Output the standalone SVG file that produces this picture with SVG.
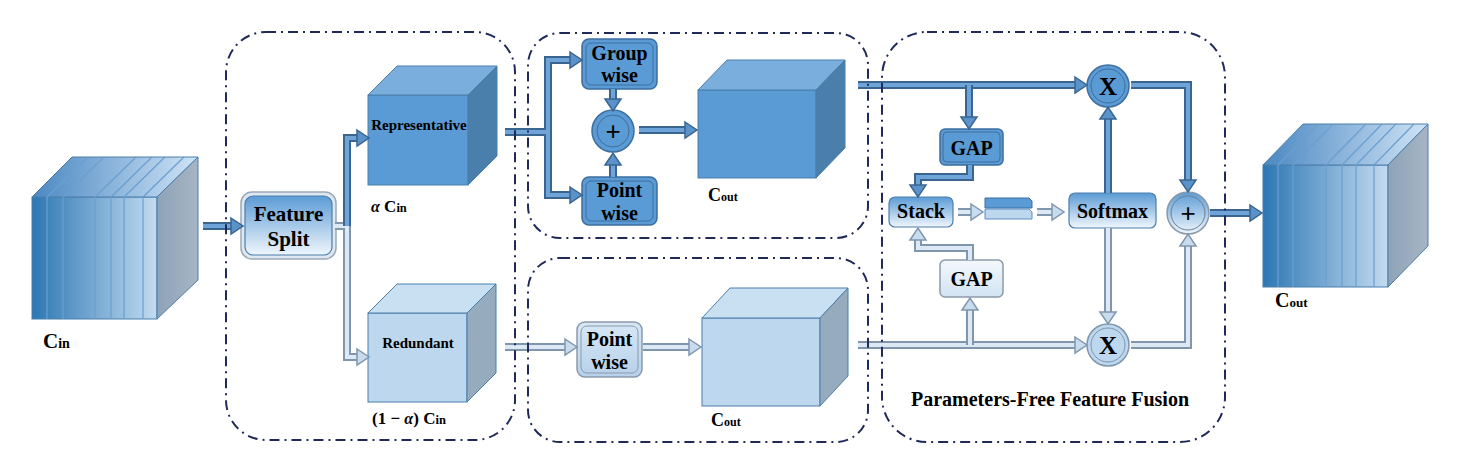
<svg xmlns="http://www.w3.org/2000/svg" width="1483" height="475" viewBox="0 0 1483 475">
<defs>
<linearGradient id="gFrontIn" x1="0" y1="0" x2="1" y2="0"><stop offset="0" stop-color="#2c77b4"/><stop offset="1" stop-color="#c3dbf0"/></linearGradient>
<linearGradient id="gTopIn" x1="0" y1="0" x2="1" y2="0"><stop offset="0" stop-color="#4b88c2"/><stop offset="1" stop-color="#cfe3f5"/></linearGradient>
<linearGradient id="gRightIn" x1="0" y1="0" x2="1" y2="0"><stop offset="0" stop-color="#8ea3b7"/><stop offset="1" stop-color="#a6b5c4"/></linearGradient>
<linearGradient id="gNode" x1="0" y1="0" x2="0" y2="1"><stop offset="0" stop-color="#5b9bd5"/><stop offset="1" stop-color="#f0f6fc"/></linearGradient>
<linearGradient id="gLight" x1="0" y1="0" x2="0" y2="1"><stop offset="0" stop-color="#f4f8fc"/><stop offset="1" stop-color="#d2e3f3"/></linearGradient>
<linearGradient id="gLightBox" x1="0" y1="0" x2="0" y2="1"><stop offset="0" stop-color="#d7e7f6"/><stop offset="1" stop-color="#b6d1ea"/></linearGradient>
</defs>
<style>
.frame{fill:none;stroke:#1f2a5a;stroke-width:2;stroke-dasharray:10 5 2 5}
.t{font-family:"Liberation Serif",serif;font-weight:bold;fill:#000;text-anchor:middle}
.lab{font-family:"Liberation Serif",serif;font-weight:bold;fill:#000}
.dOut{fill:none;stroke:#3a6590;stroke-width:8;stroke-linejoin:miter}
.dIn{fill:none;stroke:#6ea4d8;stroke-width:4;stroke-linejoin:miter}
.dHead{fill:#5b92c9;stroke:#3a6590;stroke-width:1.5;stroke-linejoin:miter}
.lOut{fill:none;stroke:#7f96ad;stroke-width:8;stroke-linejoin:miter}
.lIn{fill:none;stroke:#dce9f5;stroke-width:4;stroke-linejoin:miter}
.lHead{fill:#c9dcee;stroke:#7f96ad;stroke-width:1.5;stroke-linejoin:miter}
.edge{stroke:#4a7eab;stroke-width:1}
.stripe{stroke:#6a9fd0;stroke-width:1.2;fill:none}
.bluebox{fill:#5b9bd5;stroke:#3d6e9e;stroke-width:1.5}
.inner{fill:none;stroke:#3d6e9e;stroke-width:1}
.lightbox{fill:url(#gLightBox);stroke:#8a9aaa;stroke-width:1.5}
.grad{fill:url(#gNode);stroke:#4a7eab;stroke-width:1.2}
</style>

<g id="cube-cin">
<rect x="32" y="197" width="125" height="122" fill="url(#gFrontIn)" class="edge"/>
<polygon points="32,197 72,157 198,157 157,197" fill="url(#gTopIn)" class="edge"/>
<polygon points="157,197 198,157 198,280 157,319" fill="url(#gRightIn)" class="edge"/>
<path class="stripe" d="M47,197V319M63,197V319M95,197V319M111,197V319M124,197V319M143,197V319M47,197L88,157M63,197L104,157M95,197L136,157M111,197L152,157M124,197L165,157M143,197L184,157"/>
<text class="lab" x="43" y="348"><tspan font-size="21">C</tspan><tspan font-size="14">in</tspan></text>
</g>

<g id="cube-out">
<rect x="1263" y="165" width="125" height="122" fill="url(#gFrontIn)" class="edge"/>
<polygon points="1263,165 1303,124 1428,124 1388,165" fill="url(#gTopIn)" class="edge"/>
<polygon points="1388,165 1428,124 1428,246 1388,287" fill="url(#gRightIn)" class="edge"/>
<path class="stripe" d="M1278,165V287M1293,165V287M1326,165V287M1342,165V287M1356,165V287M1374,165V287M1278,165L1318,124M1293,165L1333,124M1326,165L1366,124M1342,165L1382,124M1356,165L1396,124M1374,165L1414,124"/>
<text class="lab" x="1275" y="307"><tspan font-size="20">C</tspan><tspan font-size="13">out</tspan></text>
</g>

<g id="cube-representative">
<rect x="368" y="95" width="100" height="90" fill="#5b9bd5" class="edge"/>
<polygon points="368,95 397,66 497,66 468,95" fill="#7aaedc" class="edge"/>
<polygon points="468,95 497,66 497,156 468,185" fill="#4a7eab" class="edge"/>
<text class="t" x="419" y="130" font-size="15">Representative</text>
<text class="lab" x="371" y="212"><tspan font-size="16" font-style="italic">α</tspan><tspan font-size="17"> C</tspan><tspan font-size="12.5">in</tspan></text>
</g>

<g id="cube-redundant">
<rect x="368" y="313" width="99" height="89" fill="#bdd7ee" class="edge"/>
<polygon points="368,313 397,284 496,284 467,313" fill="#c9dff2" class="edge"/>
<polygon points="467,313 496,284 496,373 467,402" fill="#97abbf" class="edge"/>
<text class="t" x="418" y="348" font-size="15">Redundant</text>
<text class="lab" x="372" y="424"><tspan font-size="17">(1 − </tspan><tspan font-size="16" font-style="italic">α</tspan><tspan font-size="17">) C</tspan><tspan font-size="12.5">in</tspan></text>
</g>

<g id="cube-rep-out">
<rect x="698" y="90" width="118" height="88" fill="#5b9bd5" class="edge"/>
<polygon points="698,90 727,60 845,60 816,90" fill="#7aaedc" class="edge"/>
<polygon points="816,90 845,60 845,148 816,178" fill="#4a7eab" class="edge"/>
<text class="lab" x="708" y="201"><tspan font-size="18">C</tspan><tspan font-size="12">out</tspan></text>
</g>

<g id="cube-red-out">
<rect x="702" y="318" width="118" height="88" fill="#bdd7ee" class="edge"/>
<polygon points="702,318 730,288 848,288 820,318" fill="#c9dff2" class="edge"/>
<polygon points="820,318 848,288 848,376 820,406" fill="#97abbf" class="edge"/>
<text class="lab" x="711" y="426"><tspan font-size="18">C</tspan><tspan font-size="12">out</tspan></text>
</g>

<g id="feature-split">
<rect x="241" y="192" width="95" height="67" rx="11" fill="#dfe8f1" stroke="#9aa9b8" stroke-width="1.5"/>
<rect x="245" y="196" width="87" height="59" rx="8" class="grad"/>
<text class="t" x="288.5" y="221" font-size="21">Feature</text>
<text class="t" x="288.5" y="246" font-size="21">Split</text>
</g>

<g id="group-wise">
<rect x="582" y="39" width="75" height="50" rx="7" class="bluebox"/>
<rect x="586" y="43" width="67" height="42" rx="5" class="inner"/>
<text class="t" x="619.5" y="60" font-size="20">Group</text>
<text class="t" x="619.5" y="82" font-size="20">wise</text>
</g>

<g id="point-wise-top">
<rect x="582" y="177" width="75" height="48" rx="7" class="bluebox"/>
<rect x="586" y="181" width="67" height="40" rx="5" class="inner"/>
<text class="t" x="619.5" y="197" font-size="20">Point</text>
<text class="t" x="619.5" y="220" font-size="20">wise</text>
</g>

<g id="plus-top">
<circle cx="613" cy="131" r="21" class="bluebox"/>
<circle cx="613" cy="131" r="16" class="inner"/>
<text x="613" y="140" font-family="Liberation Sans,sans-serif" font-size="26" text-anchor="middle" fill="#000">+</text>
</g>

<g id="point-wise-bottom">
<rect x="577" y="322" width="65" height="55" rx="8" class="lightbox"/>
<rect x="581" y="326" width="57" height="47" rx="6" fill="none" stroke="#8a9aaa" stroke-width="1"/>
<text class="t" x="609.5" y="346" font-size="20">Point</text>
<text class="t" x="609.5" y="369" font-size="20">wise</text>
</g>

<g id="gap-top">
<rect x="940" y="129" width="63" height="36" rx="5" class="bluebox"/>
<rect x="943" y="132" width="57" height="30" rx="4" class="inner"/>
<text class="t" x="971.5" y="155" font-size="20">GAP</text>
</g>

<g id="gap-bottom">
<rect x="940" y="260" width="63" height="37" rx="5" fill="url(#gLight)" stroke="#8a9aaa" stroke-width="1.5"/>
<text class="t" x="971.5" y="286" font-size="20">GAP</text>
</g>

<g id="stack">
<rect x="889" y="197" width="64" height="30" rx="6" class="grad"/>
<text class="t" x="921" y="218" font-size="20">Stack</text>
</g>

<g id="stacked-bars">
<polygon points="985,198 1029,198 1032,201 1032,208 985,208" fill="#5b9bd5" stroke="#3d6e9e"/>
<polygon points="985,209 1029,209 1032,212 1032,219 985,219" fill="#bdd7ee" stroke="#5b8fc0"/>
</g>

<g id="softmax">
<rect x="1069" y="193" width="87" height="35" rx="6" class="grad"/>
<text class="t" x="1112.5" y="218" font-size="20">Softmax</text>
</g>

<g id="mul-top">
<circle cx="1108" cy="86" r="21" class="bluebox"/>
<circle cx="1108" cy="86" r="17" class="inner"/>
<text class="t" x="1108" y="95" font-size="25">X</text>
</g>

<g id="mul-bottom">
<circle cx="1108" cy="345" r="21" fill="#bdd7ee" stroke="#7f96ad" stroke-width="1.5"/>
<circle cx="1108" cy="345" r="17" fill="none" stroke="#7f96ad"/>
<text class="t" x="1108" y="354" font-size="25">X</text>
</g>

<g id="plus-fusion">
<circle cx="1188" cy="213" r="21" fill="url(#gNode)" stroke="#8a9aaa" stroke-width="1.5"/>
<circle cx="1188" cy="213" r="17" fill="none" stroke="#6d7f92"/>
<text x="1188" y="222" font-family="Liberation Sans,sans-serif" font-size="26" text-anchor="middle" fill="#000">+</text>
</g>

<g id="connectors">
<path class="lOut" d="M335,226H347V357H357"/><path class="lIn" d="M335,226H347V357H357"/><polygon class="lHead" points="357,349 369,357 357,365"/>
<path class="lOut" d="M505,347H565"/><path class="lIn" d="M505,347H565"/><polygon class="lHead" points="565,339 577,347 565,355"/>
<path class="lOut" d="M643,347H689"/><path class="lIn" d="M643,347H689"/><polygon class="lHead" points="689,339 701,347 689,355"/>
<path class="lOut" d="M958,212H971"/><path class="lIn" d="M958,212H971"/><polygon class="lHead" points="971,204 983,212 971,220"/>
<path class="lOut" d="M1037,212H1052"/><path class="lIn" d="M1037,212H1052"/><polygon class="lHead" points="1052,204 1064,212 1052,220"/>
<path class="lOut" d="M1108,228V312"/><path class="lIn" d="M1108,228V312"/><polygon class="lHead" points="1100,312 1108,324 1116,312"/>
<path class="lOut" d="M858,345H1075"/><path class="lIn" d="M858,345H1075"/><polygon class="lHead" points="1075,337 1087,345 1075,353"/>
<path class="lOut" d="M970,345V310"/><path class="lIn" d="M970,345V310"/><polygon class="lHead" points="962,310 970,298 978,310"/>
<path class="lOut" d="M970,260V248H918V240"/><path class="lIn" d="M970,260V248H918V240"/><polygon class="lHead" points="910,240 918,228 926,240"/>
<path class="lOut" d="M1131,345H1188V246"/><path class="lIn" d="M1131,345H1188V246"/><polygon class="lHead" points="1180,246 1188,234 1196,246"/>
<path class="dOut" d="M203,226H231"/><path class="dIn" d="M203,226H231"/><polygon class="dHead" points="231,218 243,226 231,234"/>
<path class="dOut" d="M347,226V138H357"/><path class="dIn" d="M347,226V138H357"/><polygon class="dHead" points="357,130 369,138 357,146"/>
<path class="dOut" d="M505,132H548V60H570"/><path class="dOut" d="M548,132V195H570"/><path class="dIn" d="M505,132H548V60H570"/><path class="dIn" d="M548,132V195H570"/>
<polygon class="dHead" points="570,52 582,60 570,68"/><polygon class="dHead" points="570,187 582,195 570,203"/>
<path class="dOut" d="M613,89V99"/><path class="dIn" d="M613,89V99"/><polygon class="dHead" points="605,99 613,111 621,99"/>
<path class="dOut" d="M613,177V165"/><path class="dIn" d="M613,177V165"/><polygon class="dHead" points="605,165 613,153 621,165"/>
<path class="dOut" d="M639,130H685"/><path class="dIn" d="M639,130H685"/><polygon class="dHead" points="685,122 697,130 685,138"/>
<path class="dOut" d="M858,85H1075"/><path class="dIn" d="M858,85H1075"/><polygon class="dHead" points="1075,77 1087,85 1075,93"/>
<path class="dOut" d="M969,85V117"/><path class="dIn" d="M969,85V117"/><polygon class="dHead" points="961,117 969,129 977,117"/>
<path class="dOut" d="M970,165V177H918V185"/><path class="dIn" d="M970,165V177H918V185"/><polygon class="dHead" points="910,185 918,197 926,185"/>
<path class="dOut" d="M1108,193V119"/><path class="dIn" d="M1108,193V119"/><polygon class="dHead" points="1100,119 1108,107 1116,119"/>
<path class="dOut" d="M1131,85H1188V180"/><path class="dIn" d="M1131,85H1188V180"/><polygon class="dHead" points="1180,180 1188,192 1196,180"/>
<path class="dOut" d="M1210,213H1250"/><path class="dIn" d="M1210,213H1250"/><polygon class="dHead" points="1250,205 1262,213 1250,221"/>
</g>

<g id="frames">
<rect class="frame" x="226" y="32" width="289" height="408" rx="40"/>
<rect class="frame" x="528" y="33" width="340" height="205" rx="32"/>
<rect class="frame" x="528" y="258" width="340" height="184" rx="32"/>
<rect class="frame" x="882" y="32" width="343" height="410" rx="45"/>
<text class="t" x="1050" y="406" font-size="20">Parameters-Free Feature Fusion</text>
</g>
</svg>
